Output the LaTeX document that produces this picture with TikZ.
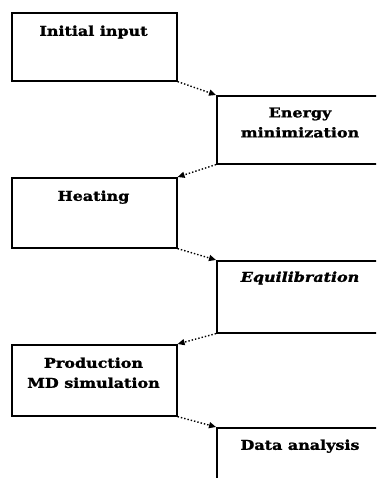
\documentclass[tikz,border=0pt]{standalone}
\usepackage{fontspec}
\setmainfont{DejaVu Serif}
\newfontfamily\heavy[FakeBold=1.5,FakeStretch=1.18]{DejaVu Serif Bold}
\newfontfamily\heavyit[FakeBold=1.5,FakeStretch=1.18]{DejaVu Serif Bold Italic}
\usetikzlibrary{arrows.meta}
\begin{document}
\begin{tikzpicture}[x=1pt,y=-1pt,
  stage/.style={draw=black,line width=1.6pt,minimum width=165pt,minimum height=68pt,inner sep=0pt,anchor=north west},
  lbl/.style={font=\fontsize{13.5}{20}\selectfont\heavy,align=center,anchor=north},
  flow/.style={line width=1.4pt,dotted,-{Triangle[length=7pt,width=6pt]}}]
\useasboundingbox (0,0) rectangle (376,478);
\clip (0,0) rectangle (376,478);
\node[stage] (b1) at (11,12) {};
\node[stage] (b2) at (216,95) {};
\node[stage,minimum height=70pt] (b3) at (11,177) {};
\node[stage,minimum height=72pt] (b4) at (216,260) {};
\node[stage,minimum height=71pt] (b5) at (11,344) {};
\node[stage] (b6) at (216,427) {};
\node[lbl] (t1) at (93.5,22) {Initial input};
\node[lbl] (t2) at (300,104) {Energy\\minimization};
\node[lbl] (t3) at (93.5,187) {Heating};
\node[lbl,font=\fontsize{13.5}{20}\selectfont\heavyit] (t4) at (300,268) {Equilibration};
\node[lbl] (t5) at (93.5,354) {Production\\MD simulation};
\node[lbl] (t6) at (300,436) {Data analysis};
\draw[flow] (b1.south east) -- (b2.north west);
\draw[flow] (b2.south west) -- (b3.north east);
\draw[flow] (b3.south east) -- (b4.north west);
\draw[flow] (b4.south west) -- (b5.north east);
\draw[flow] (b5.south east) -- (b6.north west);
\end{tikzpicture}
\end{document}
